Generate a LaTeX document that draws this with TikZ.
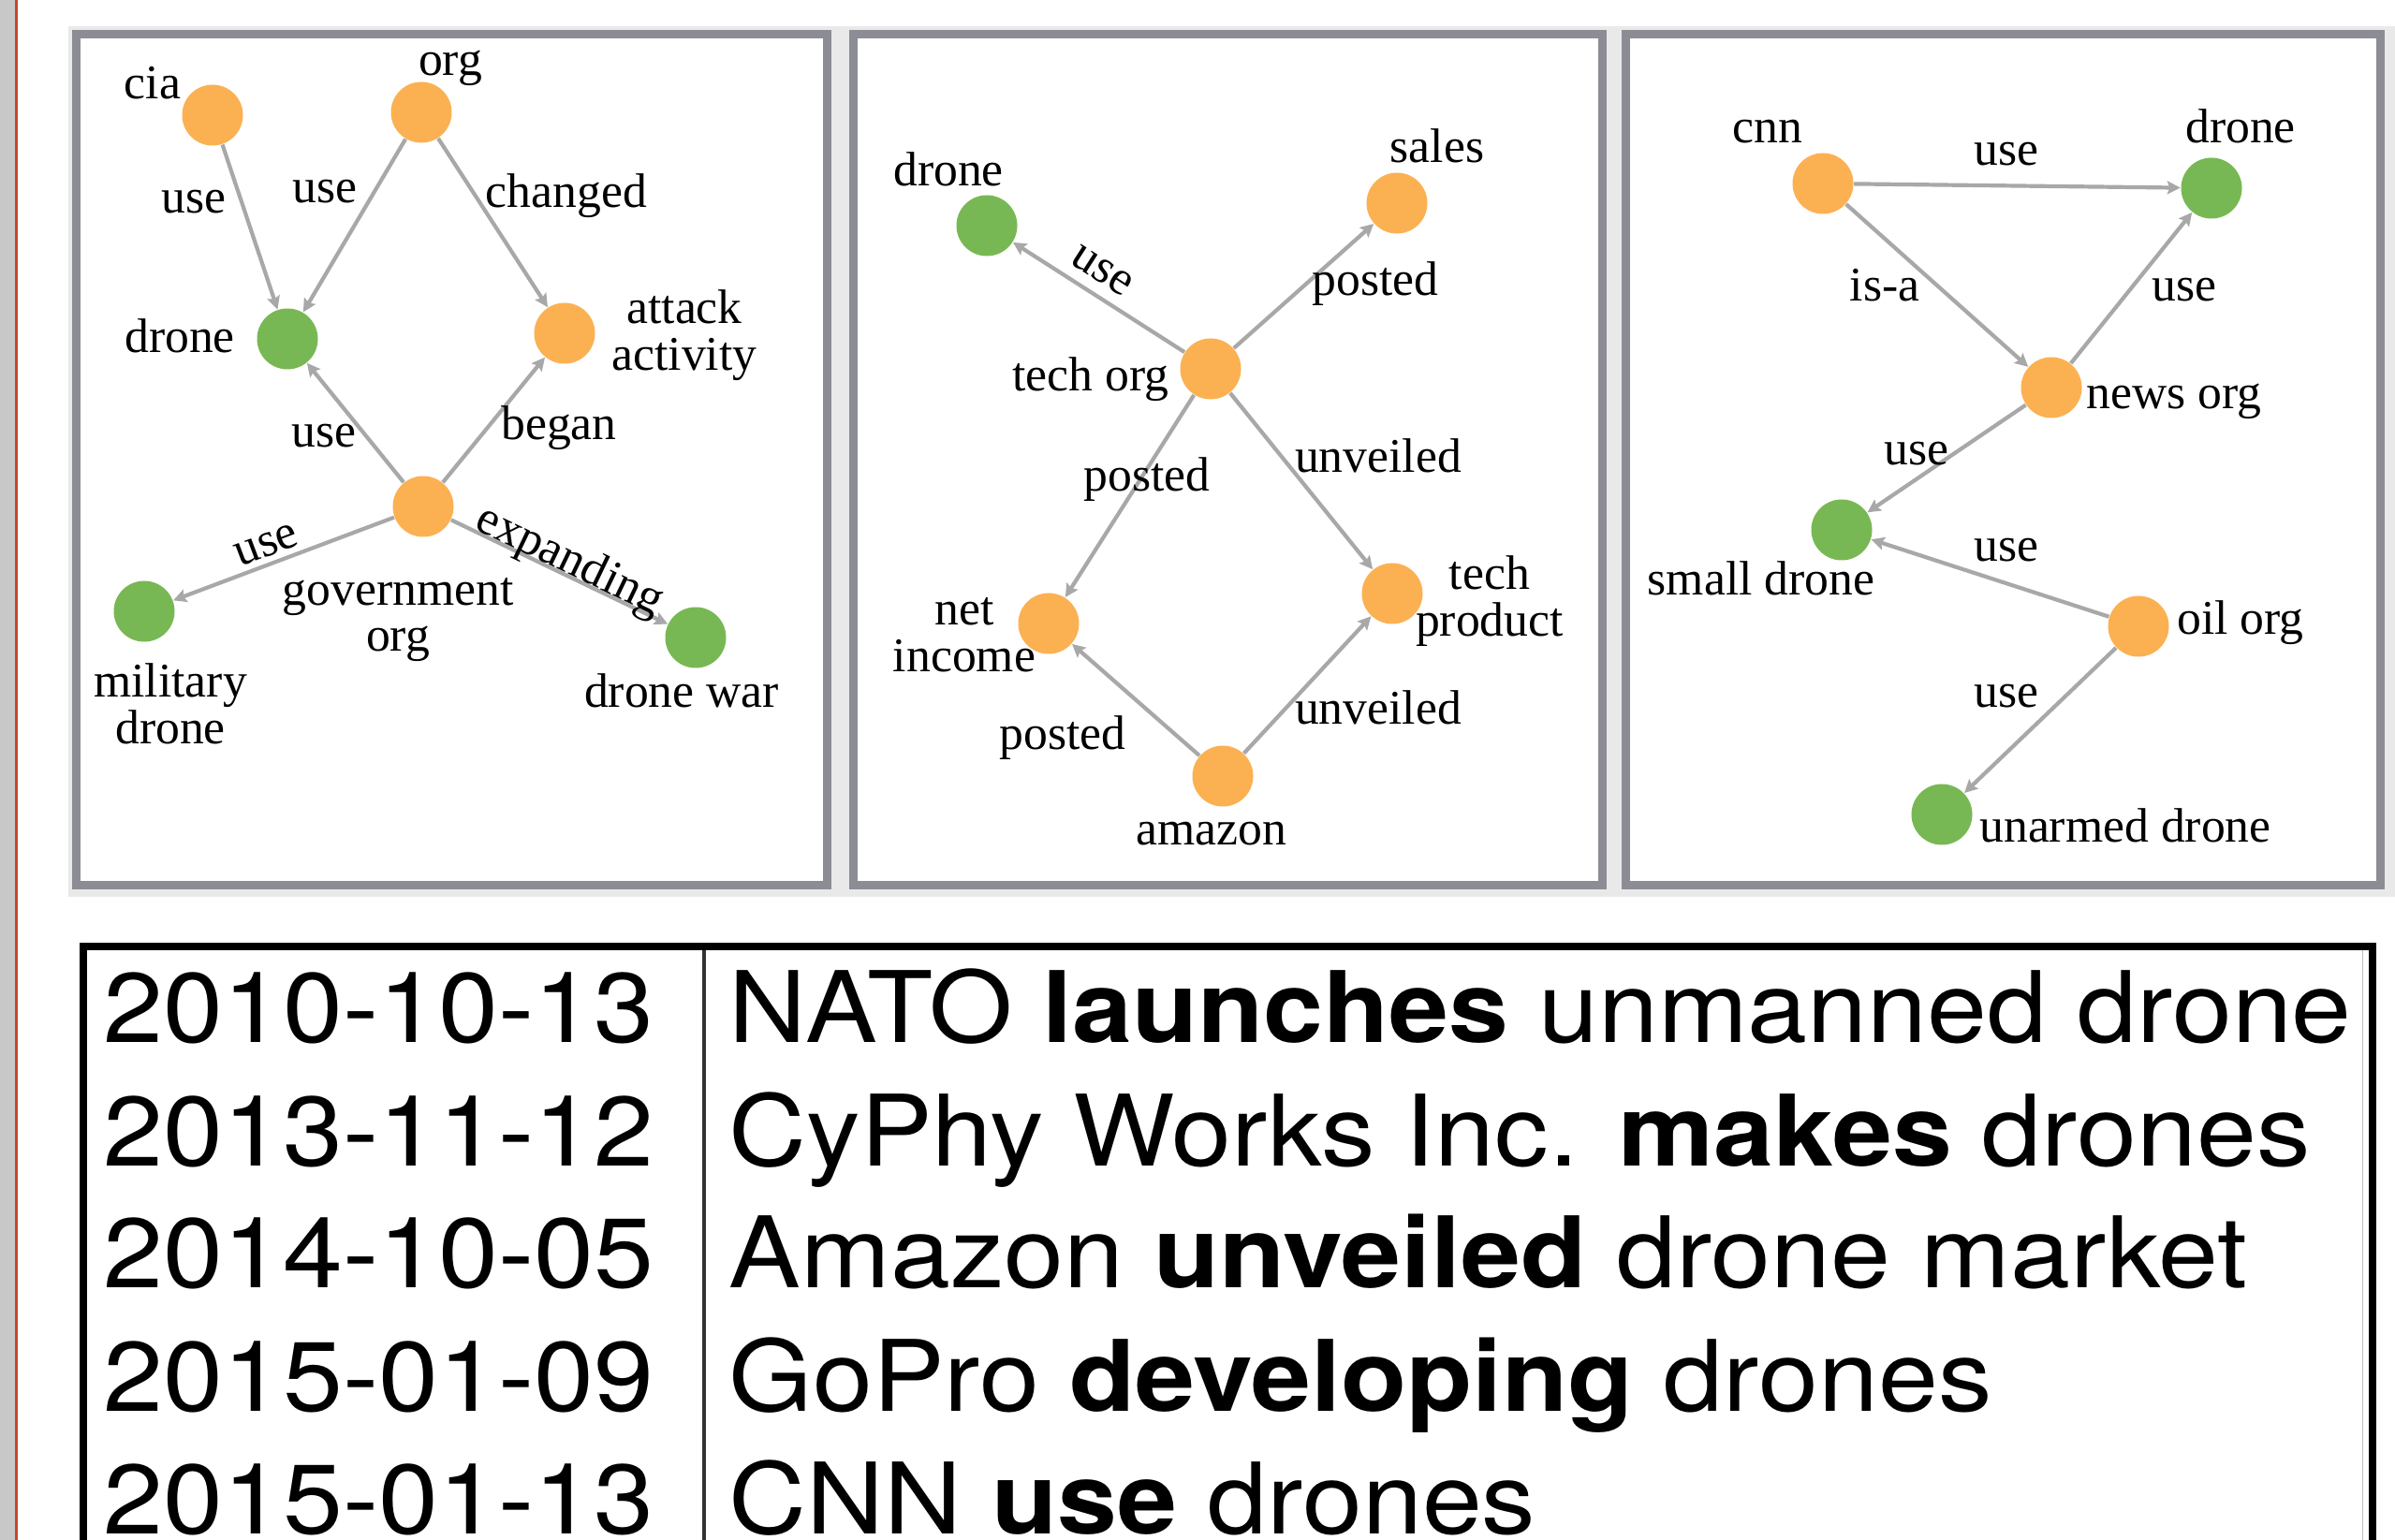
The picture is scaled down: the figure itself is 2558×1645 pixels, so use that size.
\documentclass[tikz,border=0pt]{standalone}
\usepackage{fontspec}
\setmainfont{Liberation Serif}
\newfontfamily\tabfont[FakeStretch=1.09]{TeX Gyre Heros}
\usepackage{tikz}
\usetikzlibrary{arrows.meta}
\definecolor{entorange}{RGB}{251,177,82}
\definecolor{dronegreen}{RGB}{120,184,84}
\definecolor{edgegray}{RGB}{168,168,168}
\definecolor{framegray}{RGB}{140,140,148}
\definecolor{panelbg}{RGB}{233,233,233}
\definecolor{stripgray}{RGB}{200,200,200}
\definecolor{stripred}{RGB}{200,70,40}
\tikzset{
    ent/.style={circle, fill=entorange, minimum size=6.5mm, inner sep=0pt},
    tgt/.style={ent, fill=dronegreen},
    rel/.style={draw=edgegray, line width=0.42mm, -{Stealth[length=1.4mm, width=1.4mm, inset=0.25mm]}},
    lbl/.style={inner sep=0pt, align=center, font=\fontsize{14.7}{14.2}\selectfont},
    rowtext/.style={inner sep=0pt, anchor=base west, font=\tabfont\fontsize{30}{30}\selectfont},
    panel/.style={draw=framegray, line width=0.9mm, fill=white},
}

\begin{document}
\begin{tikzpicture}[x=0.1mm, y=-0.1mm]
    \useasboundingbox (0,0) rectangle (2558,1645);
    \fill[stripgray] (0,0) rectangle (16,1645);
    \fill[stripred] (16,0) rectangle (19,1645);
    \fill[panelbg] (73,28) rectangle (2558,958);
    \draw[panel] (81.5,36.5) rectangle (883.5,945.5);
    \draw[panel] (911.5,36.5) rectangle (1711.5,945.5);
    \draw[panel] (1736.5,36.5) rectangle (2542.5,945.5);

    % first graph
    \node[ent] (cia) at (227,123) {};
    \node[ent] (org) at (450,120) {};
    \node[tgt] (droneA) at (307,362) {};
    \node[ent] (attack) at (603,356) {};
    \node[ent] (gov) at (452,541) {};
    \node[tgt] (mil) at (154,653) {};
    \node[tgt] (dwar) at (743,681) {};
    \node[lbl, anchor=base] (ciaL) at (163,106) {cia};
    \node[lbl, anchor=base] (orgL) at (481,81) {org};
    \node[lbl, anchor=base] (droneAL) at (192,377) {drone};
    \node[lbl] (attackL) at (731,358) {attack\\activity};
    \node[lbl] (govL) at (425,662) {government\\org};
    \node[lbl] (milL) at (182,752) {military\\drone};
    \node[lbl, anchor=base] (dwarL) at (728,756) {drone war};
    \draw[rel] (cia) -- (droneA);
    \draw[rel] (org) -- (droneA);
    \draw[rel] (org) -- (attack);
    \draw[rel] (gov) -- (droneA);
    \draw[rel] (gov) -- (attack);
    \draw[rel] (gov) -- (mil);
    \draw[rel] (gov) -- (dwar);
    \node[lbl, anchor=base] (useA) at (207,228) {use};
    \node[lbl, anchor=base] (useB) at (347,217) {use};
    \node[lbl, anchor=base] (changedA) at (605,222) {changed};
    \node[lbl, anchor=base] (useC) at (346,478) {use};
    \node[lbl, anchor=base] (beganA) at (597,470) {began};
    \node[lbl, rotate=20.6] (useD) at (285,582) {use};
    \node[lbl, rotate=-25.7] (expandA) at (608,600) {expanding};

    % second graph
    \node[tgt] (droneB) at (1054,241) {};
    \node[ent] (sales) at (1492,217) {};
    \node[ent] (techorg) at (1293,394) {};
    \node[ent] (netinc) at (1120,666) {};
    \node[ent] (techprod) at (1487,634) {};
    \node[ent] (amazon) at (1306,829) {};
    \node[lbl, anchor=base] (droneBL) at (1013,199) {drone};
    \node[lbl, anchor=base] (salesL) at (1535,174) {sales};
    \node[lbl, anchor=base] (techorgL) at (1165,418) {tech org};
    \node[lbl] (netincL) at (1030,678) {net\\income};
    \node[lbl] (techprodL) at (1591,642) {tech\\product};
    \node[lbl, anchor=base] (amazonL) at (1294,903) {amazon};
    \draw[rel] (techorg) -- (droneB);
    \draw[rel] (techorg) -- (sales);
    \draw[rel] (techorg) -- (netinc);
    \draw[rel] (techorg) -- (techprod);
    \draw[rel] (amazon) -- (netinc);
    \draw[rel] (amazon) -- (techprod);
    \node[lbl, rotate=-32.7] (useE) at (1177,289) {use};
    \node[lbl, anchor=base] (postedA) at (1469,316) {posted};
    \node[lbl, anchor=base] (postedB) at (1225,525) {posted};
    \node[lbl, anchor=base] (unveiledA) at (1472,505) {unveiled};
    \node[lbl, anchor=base] (postedC) at (1135,801) {posted};
    \node[lbl, anchor=base] (unveiledB) at (1472,774) {unveiled};

    % third graph
    \node[ent] (cnn) at (1947,196) {};
    \node[tgt] (droneC) at (2362,201) {};
    \node[ent] (newsorg) at (2191,414) {};
    \node[tgt] (small) at (1967,566) {};
    \node[ent] (oilorg) at (2284,669) {};
    \node[tgt] (unarmed) at (2074,870) {};
    \node[lbl, anchor=base] (cnnL) at (1888,153) {cnn};
    \node[lbl, anchor=base] (droneCL) at (2393,153) {drone};
    \node[lbl, anchor=base] (newsorgL) at (2322,437) {news org};
    \node[lbl, anchor=base] (smallL) at (1881,636) {small drone};
    \node[lbl, anchor=base] (oilorgL) at (2393,678) {oil org};
    \node[lbl, anchor=base] (unarmedL) at (2270,900) {unarmed drone};
    \draw[rel] (cnn) -- (droneC);
    \draw[rel] (cnn) -- (newsorg);
    \draw[rel] (newsorg) -- (droneC);
    \draw[rel] (newsorg) -- (small);
    \draw[rel] (oilorg) -- (small);
    \draw[rel] (oilorg) -- (unarmed);
    \node[lbl, anchor=base] (useF) at (2143,177) {use};
    \node[lbl, anchor=base] (isaA) at (2013,322) {is-a};
    \node[lbl, anchor=base] (useG) at (2333,322) {use};
    \node[lbl, anchor=base] (useH) at (2047,497) {use};
    \node[lbl, anchor=base] (useI) at (2143,600) {use};
    \node[lbl, anchor=base] (useJ) at (2143,756) {use};

    % timeline table
    \draw[line width=0.8mm] (89,1660) -- (89,1011) -- (2534,1011) -- (2534,1660);
    \draw[line width=0.4mm, black!80] (752,1015) -- (752,1660);
    \draw[line width=0.1mm, black!25] (2523,1015) -- (2523,1660);
    \node[rowtext] (dateA) at (110,1113) {2010-10-13};
    \node[rowtext] (dateB) at (110,1245) {2013-11-12};
    \node[rowtext] (dateC) at (110,1375) {2014-10-05};
    \node[rowtext] (dateD) at (110,1507) {2015-01-09};
    \node[rowtext] (dateE) at (110,1638) {2015-01-13};
    \node[rowtext] (eventA) at (778,1113) {NATO \textbf{launches} unmanned drone};
    \node[rowtext] (eventB) at (778,1245) {CyPhy Works Inc. \textbf{makes} drones};
    \node[rowtext] (eventC) at (778,1375) {Amazon \textbf{unveiled} drone market};
    \node[rowtext] (eventD) at (778,1507) {GoPro \textbf{developing} drones};
    \node[rowtext] (eventE) at (778,1638) {CNN \textbf{use} drones};
\end{tikzpicture}
\end{document}
